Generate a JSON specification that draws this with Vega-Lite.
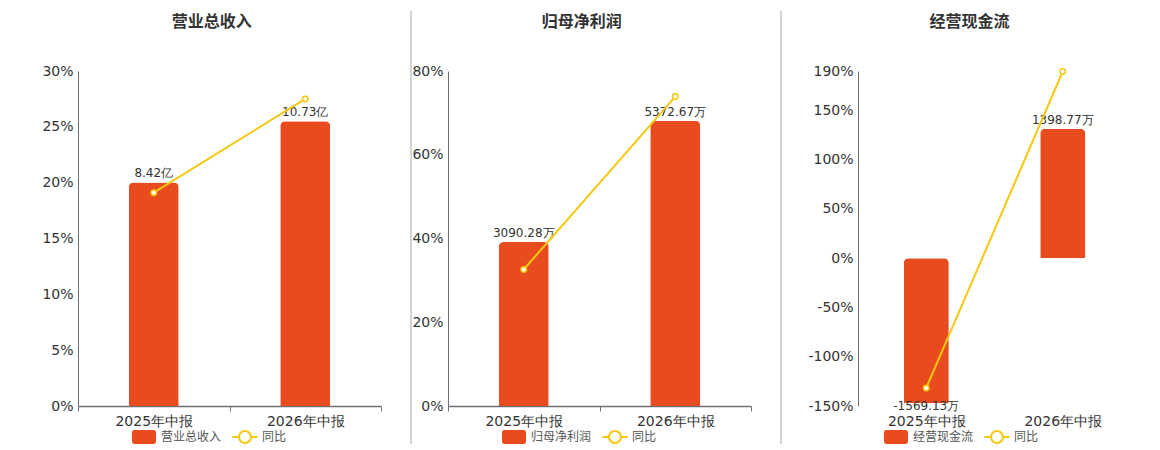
{
  "$schema": "https://vega.github.io/schema/vega-lite/v6.json",
  "padding": {"left": 41, "top": 10, "right": 0, "bottom": 0},
  "background": "white",
  "datasets": {
    "rev": [
      {"period": "2025年中报", "value": 8.42, "label": "8.42亿", "yoy": 19.1},
      {"period": "2026年中报", "value": 10.73, "label": "10.73亿", "yoy": 27.5}
    ],
    "np": [
      {"period": "2025年中报", "value": 3090.28, "label": "3090.28万", "yoy": 32.6},
      {"period": "2026年中报", "value": 5372.67, "label": "5372.67万", "yoy": 73.9}
    ],
    "cf": [
      {"period": "2025年中报", "value": -1569.13, "label": "-1569.13万", "yoy": -131.7},
      {"period": "2026年中报", "value": 1398.77, "label": "1398.77万", "yoy": 189.5}
    ],
    "div": [{"x": 0, "y": 0, "y2": 1}]
  },
  "config": {
    "view": {"stroke": null},
    "font": "DejaVu Sans",
    "title": {"fontSize": 16, "fontWeight": "bold", "color": "#333333", "font": "Noto Sans CJK SC", "anchor": "middle", "frame": "bounds", "offset": -19, "baseline": "alphabetic"},
    "axis": {"labelFont": "DejaVu Sans", "labelFontSize": 14, "labelColor": "#333333", "domainColor": "#6E7079", "tickColor": "#6E7079", "gridColor": "#E0E6F1", "title": null},
    "axisX": {"tickBand": "extent", "labelAngle": 0, "grid": false, "ticks": true, "tickSize": 5, "labelPadding": 3, "domainWidth": 1.5},
    "axisY": {"ticks": false, "labelPadding": 5, "domainWidth": 1, "grid": true},
    "legend": {
      "orient": "none", "direction": "horizontal", "title": null, "padding": 0,
      "labelFont": "Noto Sans CJK SC", "labelFontSize": 12, "labelColor": "#555555",
      "symbolSize": 576, "labelOffset": 5, "columnPadding": 10
    }
  },
  "bounds": "flush",
  "spacing": 30,
  "resolve": {"scale": {"color": "independent"}, "legend": {"color": "independent"}},
  "hconcat": [
    {
      "width": 303, "height": 395,
      "title": {"text": "营业总收入"},
      "data": {"name": "rev"},
      "encoding": {"x": {"field": "period", "type": "nominal", "sort": null, "scale": {"paddingInner": 0, "paddingOuter": 0}}},
      "layer": [
        {
          "encoding": {"y": {"field": "value", "type": "quantitative", "scale": {"domain": [0, 12.62], "range": [395, 60]}, "axis": null}},
          "layer": [
            {
              "mark": {"type": "bar", "cornerRadiusEnd": 5, "width": {"band": 0.33}},
              "encoding": {"color": {"datum": "营业总收入", "scale": {"domain": ["营业总收入", "同比"], "range": ["#E84C1E", "#F4C810"]},
                "legend": {"legendX": 54, "legendY": 414, "encode": {"symbols": {"update": {
                  "shape": {"signal": "datum.value === '同比' ? 'M-1.05,-0.085H-0.5V0.085H-1.05ZM0.5,-0.085H1.05V0.085H0.5ZM0.58,0A0.58,0.58,0,1,1,-0.58,0A0.58,0.58,0,1,1,0.58,0ZM0.41,0A0.41,0.41,0,1,0,-0.41,0A0.41,0.41,0,1,0,0.41,0Z' : 'M-0.8,-0.58H0.8A0.2,0.2,0,0,1,1,-0.38V0.38A0.2,0.2,0,0,1,0.8,0.58H-0.8A0.2,0.2,0,0,1,-1,0.38V-0.38A0.2,0.2,0,0,1,-0.8,-0.58Z'"},
                  "strokeWidth": {"value": 0},
                  "opacity": {"value": 1}, "fillOpacity": {"value": 1}
                }}}}}}
            },
            {
              "mark": {"type": "text", "baseline": "alphabetic", "dy": -5, "fontSize": 12, "color": "#333333"},
              "encoding": {"text": {"field": "label"}}
            }
          ]
        },
        {
          "encoding": {"y": {"field": "yoy", "type": "quantitative", "scale": {"domain": [0, 30], "range": [395, 60]}, "axis": {"orient": "left", "values": [0, 5, 10, 15, 20, 25, 30], "labelExpr": "datum.value + '%'"}}},
          "layer": [
            {"mark": {"type": "line", "strokeWidth": 2}, "encoding": {"color": {"datum": "同比"}}},
            {"mark": {"type": "point", "filled": true, "fill": "#ffffff", "stroke": "#F4C810", "strokeWidth": 1.5, "size": 30, "opacity": 1}}
          ]
        }
      ],
      "resolve": {"scale": {"y": "independent"}}
    },
    {
      "width": 7, "height": 433,
      "data": {"name": "div"},
      "mark": {"type": "rule", "color": "#AAAAAA", "strokeWidth": 1},
      "encoding": {
        "x": {"field": "x", "type": "quantitative", "scale": {"domain": [0, 1]}, "axis": null},
        "y": {"field": "y", "type": "quantitative", "scale": {"domain": [0, 1]}, "axis": null},
        "y2": {"field": "y2"}
      }
    },
    {
      "width": 303, "height": 395,
      "title": {"text": "归母净利润"},
      "data": {"name": "np"},
      "encoding": {"x": {"field": "period", "type": "nominal", "sort": null, "scale": {"paddingInner": 0, "paddingOuter": 0}}},
      "layer": [
        {
          "encoding": {"y": {"field": "value", "type": "quantitative", "scale": {"domain": [0, 6312], "range": [395, 60]}, "axis": null}},
          "layer": [
            {
              "mark": {"type": "bar", "cornerRadiusEnd": 5, "width": {"band": 0.33}},
              "encoding": {"color": {"datum": "归母净利润", "scale": {"domain": ["归母净利润", "同比"], "range": ["#E84C1E", "#F4C810"]},
                "legend": {"legendX": 54, "legendY": 414, "encode": {"symbols": {"update": {
                  "shape": {"signal": "datum.value === '同比' ? 'M-1.05,-0.085H-0.5V0.085H-1.05ZM0.5,-0.085H1.05V0.085H0.5ZM0.58,0A0.58,0.58,0,1,1,-0.58,0A0.58,0.58,0,1,1,0.58,0ZM0.41,0A0.41,0.41,0,1,0,-0.41,0A0.41,0.41,0,1,0,0.41,0Z' : 'M-0.8,-0.58H0.8A0.2,0.2,0,0,1,1,-0.38V0.38A0.2,0.2,0,0,1,0.8,0.58H-0.8A0.2,0.2,0,0,1,-1,0.38V-0.38A0.2,0.2,0,0,1,-0.8,-0.58Z'"},
                  "strokeWidth": {"value": 0},
                  "opacity": {"value": 1}, "fillOpacity": {"value": 1}
                }}}}}}
            },
            {
              "mark": {"type": "text", "baseline": "alphabetic", "dy": -5, "fontSize": 12, "color": "#333333"},
              "encoding": {"text": {"field": "label"}}
            }
          ]
        },
        {
          "encoding": {"y": {"field": "yoy", "type": "quantitative", "scale": {"domain": [0, 80], "range": [395, 60]}, "axis": {"orient": "left", "values": [0, 20, 40, 60, 80], "labelExpr": "datum.value + '%'"}}},
          "layer": [
            {"mark": {"type": "line", "strokeWidth": 2}, "encoding": {"color": {"datum": "同比"}}},
            {"mark": {"type": "point", "filled": true, "fill": "#ffffff", "stroke": "#F4C810", "strokeWidth": 1.5, "size": 30, "opacity": 1}}
          ]
        }
      ],
      "resolve": {"scale": {"y": "independent"}}
    },
    {
      "width": 47, "height": 433,
      "data": {"name": "div"},
      "mark": {"type": "rule", "color": "#AAAAAA", "strokeWidth": 1},
      "encoding": {
        "x": {"field": "x", "type": "quantitative", "scale": {"domain": [0, 1]}, "axis": null},
        "y": {"field": "y", "type": "quantitative", "scale": {"domain": [0, 1]}, "axis": null},
        "y2": {"field": "y2"}
      }
    },
    {
      "width": 273, "height": 395,
      "title": {"text": "经营现金流"},
      "data": {"name": "cf"},
      "encoding": {"x": {"field": "period", "type": "nominal", "sort": null, "scale": {"paddingInner": 0, "paddingOuter": 0}, "axis": {"domain": false, "ticks": false, "labelPadding": 8}}},
      "layer": [
        {
          "encoding": {"y": {"field": "value", "type": "quantitative", "scale": {"domain": [-1598, 2024], "range": [395, 60]}, "axis": null}},
          "layer": [
            {
              "mark": {"type": "bar", "cornerRadiusEnd": 5, "width": {"band": 0.33}},
              "encoding": {"color": {"datum": "经营现金流", "scale": {"domain": ["经营现金流", "同比"], "range": ["#E84C1E", "#F4C810"]},
                "legend": {"legendX": 26, "legendY": 414, "encode": {"symbols": {"update": {
                  "shape": {"signal": "datum.value === '同比' ? 'M-1.05,-0.085H-0.5V0.085H-1.05ZM0.5,-0.085H1.05V0.085H0.5ZM0.58,0A0.58,0.58,0,1,1,-0.58,0A0.58,0.58,0,1,1,0.58,0ZM0.41,0A0.41,0.41,0,1,0,-0.41,0A0.41,0.41,0,1,0,0.41,0Z' : 'M-0.8,-0.58H0.8A0.2,0.2,0,0,1,1,-0.38V0.38A0.2,0.2,0,0,1,0.8,0.58H-0.8A0.2,0.2,0,0,1,-1,0.38V-0.38A0.2,0.2,0,0,1,-0.8,-0.58Z'"},
                  "strokeWidth": {"value": 0},
                  "opacity": {"value": 1}, "fillOpacity": {"value": 1}
                }}}}}}
            },
            {
              "mark": {"type": "text", "fontSize": 12, "color": "#333333",
                "baseline": {"expr": "datum.value < 0 ? 'top' : 'alphabetic'"},
                "dy": {"expr": "datum.value < 0 ? -2 : -5"}},
              "encoding": {"text": {"field": "label"}}
            }
          ]
        },
        {
          "encoding": {"y": {"field": "yoy", "type": "quantitative", "scale": {"domain": [-150, 190], "range": [395, 60]}, "axis": {"orient": "left", "values": [-150, -100, -50, 0, 50, 100, 150, 190], "labelExpr": "datum.value + '%'"}}},
          "layer": [
            {"mark": {"type": "rule", "color": "#6E7079", "strokeWidth": 1.5}, "encoding": {"y": {"datum": 0}}},
            {"mark": {"type": "line", "strokeWidth": 2}, "encoding": {"color": {"datum": "同比"}}},
            {"mark": {"type": "point", "filled": true, "fill": "#ffffff", "stroke": "#F4C810", "strokeWidth": 1.5, "size": 30, "opacity": 1}}
          ]
        }
      ],
      "resolve": {"scale": {"y": "independent"}}
    }
  ]
}
